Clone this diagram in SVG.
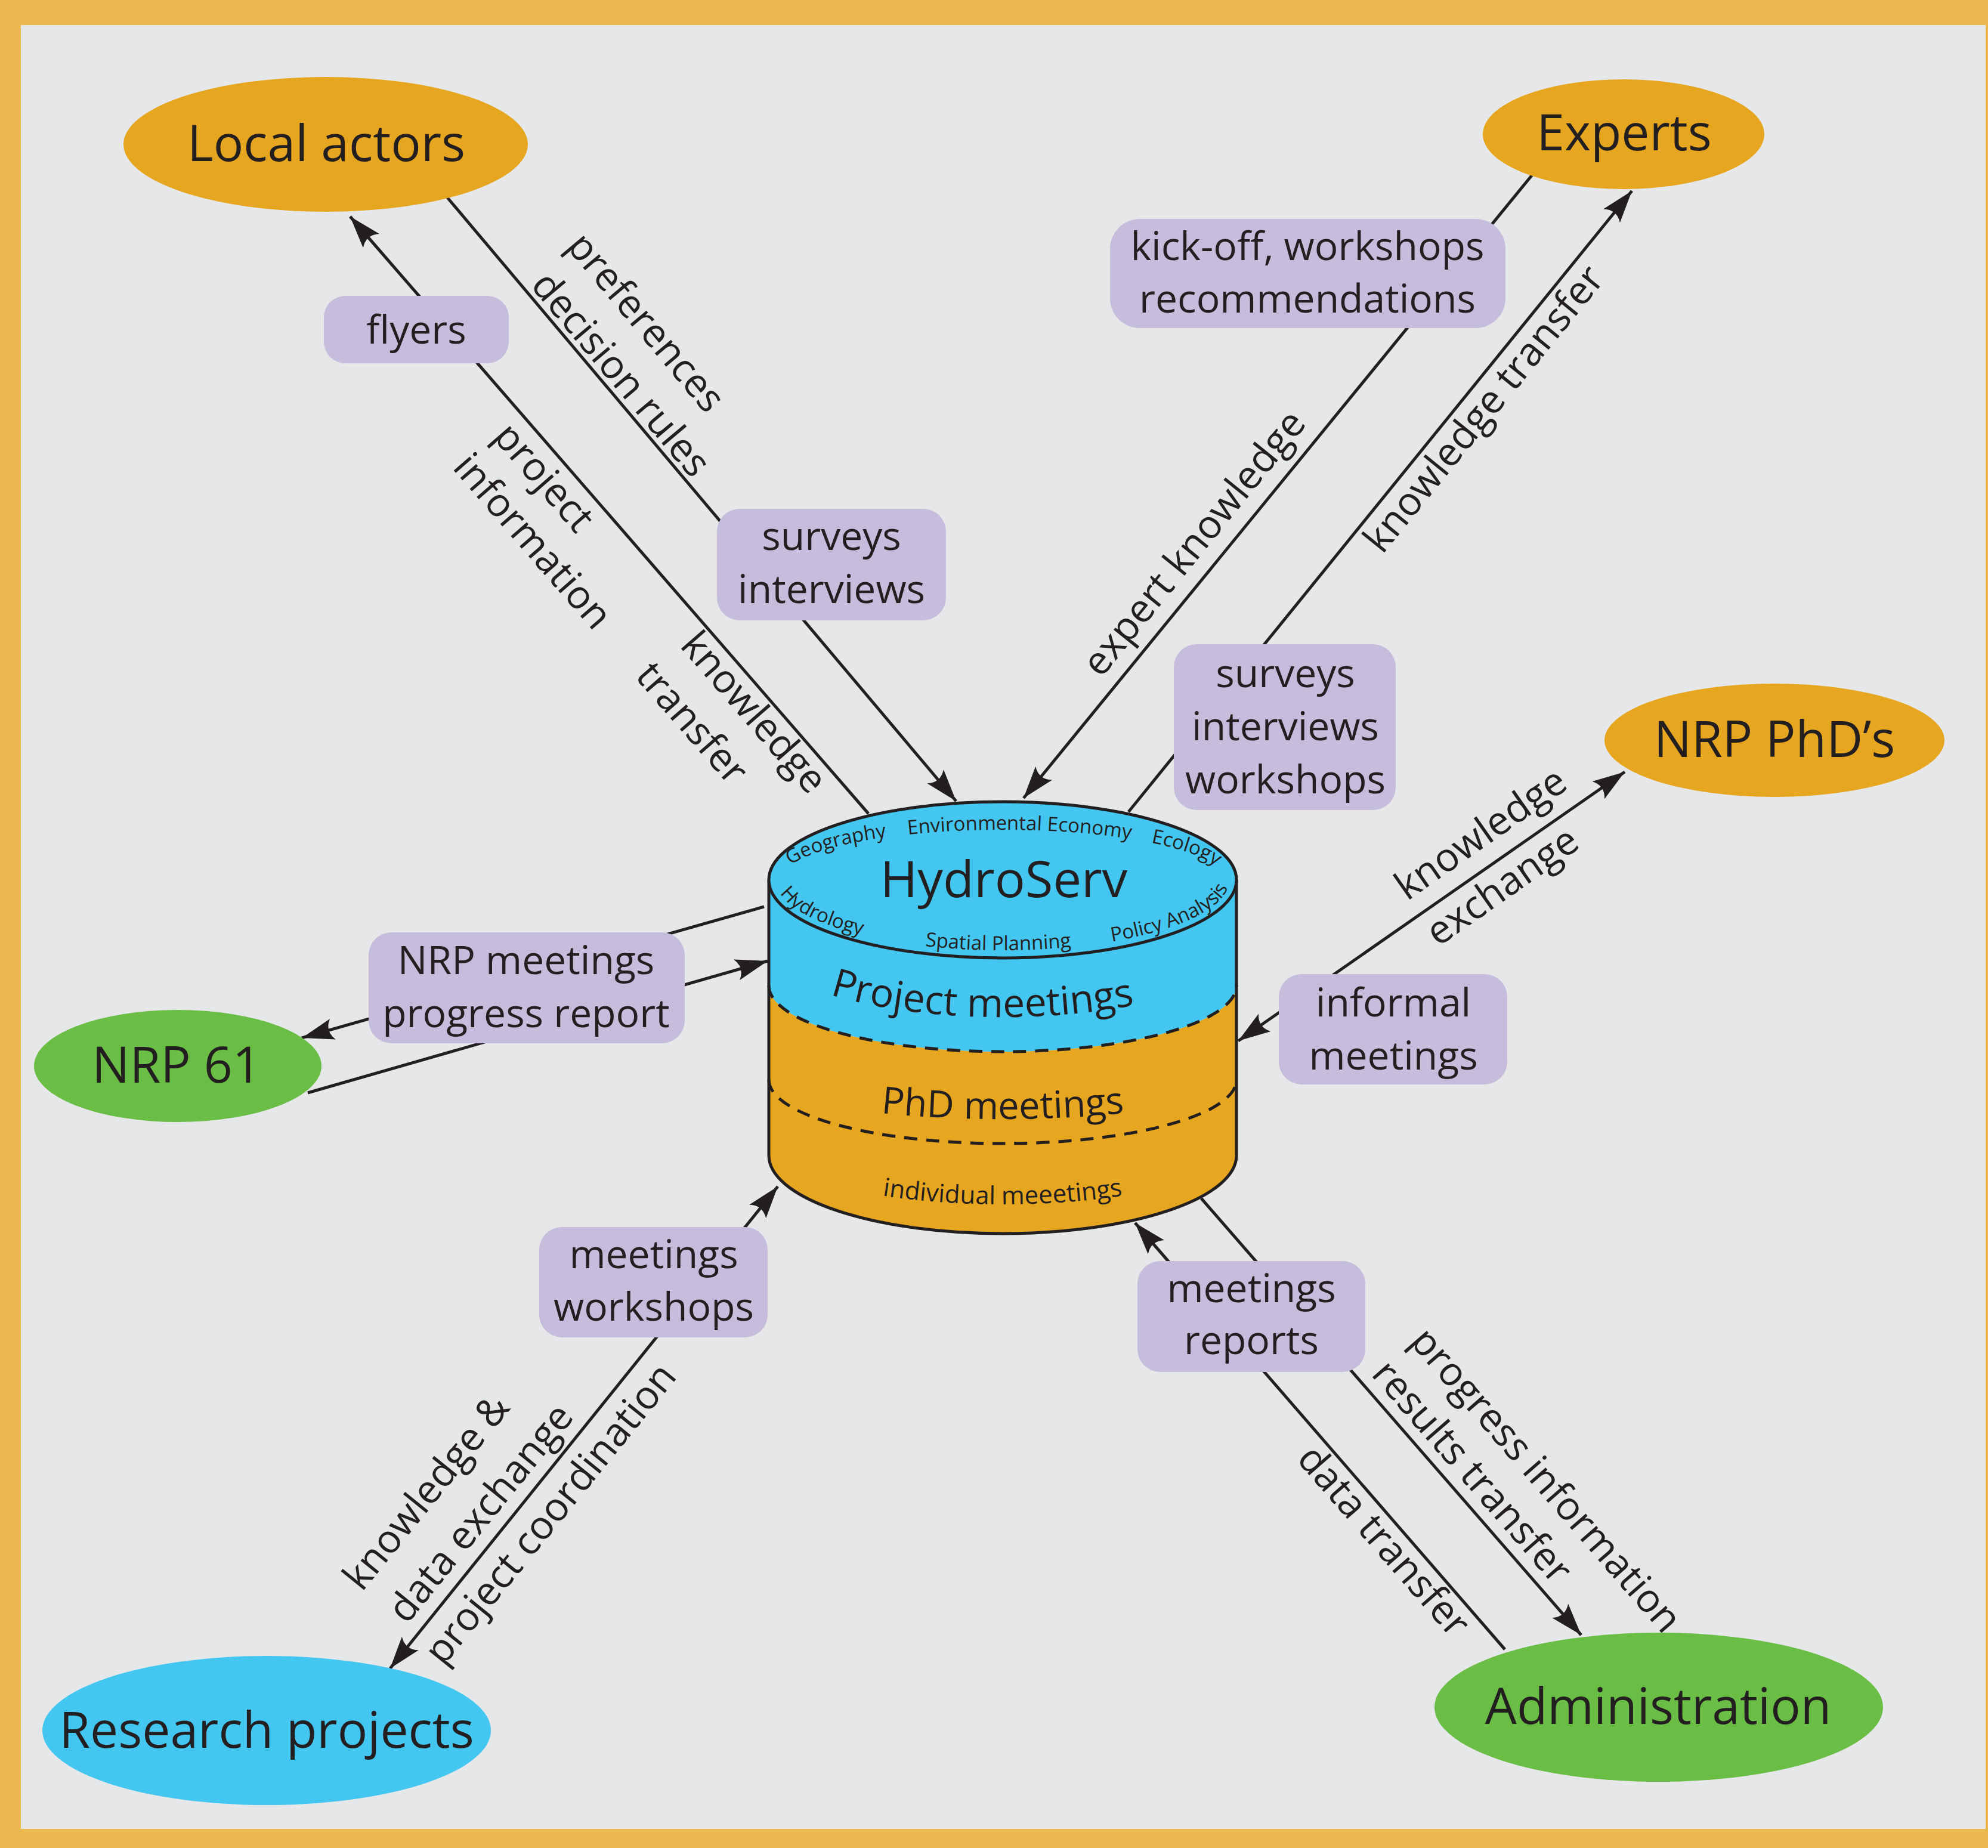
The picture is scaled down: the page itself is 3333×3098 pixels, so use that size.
<svg xmlns="http://www.w3.org/2000/svg" width="3333" height="3098" viewBox="0 0 3333 3098">
<style>
text{font-family:"Open Sans","Noto Sans","Liberation Sans",sans-serif;fill:#231F20}
.nt{font-size:84px;text-anchor:middle}
.lb{font-size:66px;text-anchor:middle}
.rl{font-size:66px;text-anchor:middle}
.sm{font-size:33px}
.box{fill:#C6BDDD}
.ln{stroke:#231F20;stroke-width:5;fill:none}
.cyl{stroke:#231F20;stroke-width:5}
.dash{stroke:#231F20;stroke-width:5;fill:none;stroke-dasharray:22 15}
</style>
<defs>
<marker id="ah" markerUnits="userSpaceOnUse" markerWidth="56" markerHeight="40" viewBox="0 0 56 40" refX="54" refY="20" orient="auto">
<path d="M54,20 L0,2 Q14,20 0,38 Z" fill="#231F20"/>
</marker>
<marker id="ahs" markerUnits="userSpaceOnUse" markerWidth="56" markerHeight="40" viewBox="0 0 56 40" refX="54" refY="20" orient="auto-start-reverse">
<path d="M54,20 L0,2 Q14,20 0,38 Z" fill="#231F20"/>
</marker>
<path id="arcTop" d="M 1309 1475 A 372 84 0 0 1 2053 1475"/>
<path id="arcBot" d="M 1301 1475 A 380 118 0 0 0 2061 1475"/>
<path id="arcPM" d="M 1281 1583 A 400 122 0 0 0 2081 1583"/>
<path id="arcPhD" d="M 1281 1804 A 400 72 0 0 0 2081 1804"/>
<path id="arcInd" d="M 1281 1911 A 400 108 0 0 0 2081 1911"/>
</defs>
<rect x="0" y="0" width="3333" height="3098" fill="#EAB84E"/>
<rect x="35" y="42" width="3294" height="3024" fill="#E6E7E8"/>

<g id="connectors">
<line class="ln" x1="1456" y1="1364" x2="587" y2="363" marker-end="url(#ah)"/>
<line class="ln" x1="749" y1="330" x2="1603" y2="1343" marker-end="url(#ah)"/>
<line class="ln" x1="2569" y1="293" x2="1716" y2="1338" marker-end="url(#ah)"/>
<line class="ln" x1="1892" y1="1361" x2="2736" y2="320" marker-end="url(#ah)"/>
<line class="ln" x1="2076" y1="1745" x2="2724" y2="1294" marker-start="url(#ahs)" marker-end="url(#ah)"/>
<line class="ln" x1="1281" y1="1520" x2="506" y2="1740" marker-end="url(#ah)"/>
<line class="ln" x1="516" y1="1832" x2="1287" y2="1611" marker-end="url(#ah)"/>
<line class="ln" x1="1304" y1="1989" x2="654" y2="2797" marker-start="url(#ahs)" marker-end="url(#ah)"/>
<line class="ln" x1="2523" y1="2765" x2="1903" y2="2050" marker-end="url(#ah)"/>
<line class="ln" x1="2014" y1="2009" x2="2651" y2="2741" marker-end="url(#ah)"/>
</g>

<g id="connector-labels">
<text class="rl" transform="translate(909,803) rotate(49)" y="18">project</text>
<text class="rl" transform="translate(890,910) rotate(49)" y="18">information</text>
<text class="rl" transform="translate(1261,1197) rotate(49)" y="18">knowledge</text>
<text class="rl" transform="translate(1157,1215) rotate(49)" y="18">transfer</text>
<text class="rl" transform="translate(1080,543) rotate(50)" y="18">preferences</text>
<text class="rl" transform="translate(1038,630) rotate(50)" y="18">decision rules</text>
<text class="rl" transform="translate(2005,913) rotate(-51)" y="18">expert knowledge</text>
<text class="rl" transform="translate(2491,688) rotate(-51)" y="18">knowledge transfer</text>
<text class="rl" transform="translate(2485,1401) rotate(-35)" y="18">knowledge</text>
<text class="rl" transform="translate(2521,1489) rotate(-35)" y="18">exchange</text>
<text class="rl" transform="translate(718,2504) rotate(-51)" y="18">knowledge &amp;</text>
<text class="rl" transform="translate(809,2539) rotate(-51)" y="18">data exchange</text>
<text class="rl" transform="translate(926,2540) rotate(-51)" y="18">project coordination</text>
<text class="rl" transform="translate(2589,2484) rotate(49)" y="18">progress information</text>
<text class="rl" transform="translate(2465,2470) rotate(49)" y="18">results transfer</text>
<text class="rl" transform="translate(2317,2586) rotate(49)" y="18">data transfer</text>
</g>

<g id="box-flyers"><rect class="box" x="543" y="496" width="310" height="113" rx="36"/><text class="lb" x="698" y="576">flyers</text></g>
<g id="box-surveys1"><rect class="box" x="1202" y="853" width="384" height="187" rx="38"/><text class="lb" x="1394" y="922">surveys</text><text class="lb" x="1394" y="1011">interviews</text></g>
<g id="box-kickoff"><rect class="box" x="1861" y="367" width="663" height="183" rx="50"/><text class="lb" x="2192" y="436">kick-off, workshops</text><text class="lb" x="2192" y="524">recommendations</text></g>
<g id="box-surveys2"><rect class="box" x="1968" y="1080" width="372" height="278" rx="38"/><text class="lb" x="2155" y="1152">surveys</text><text class="lb" x="2155" y="1241">interviews</text><text class="lb" x="2155" y="1330">workshops</text></g>
<g id="box-informal"><rect class="box" x="2144" y="1633" width="383" height="185" rx="38"/><text class="lb" x="2336" y="1704">informal</text><text class="lb" x="2336" y="1793">meetings</text></g>
<g id="box-nrp"><rect class="box" x="618" y="1563" width="530" height="186" rx="38"/><text class="lb" x="882" y="1633">NRP meetings</text><text class="lb" x="882" y="1722">progress report</text></g>
<g id="box-meetws"><rect class="box" x="904" y="2057" width="383" height="185" rx="38"/><text class="lb" x="1096" y="2126">meetings</text><text class="lb" x="1096" y="2214">workshops</text></g>
<g id="box-meetrep"><rect class="box" x="1907" y="2114" width="382" height="186" rx="38"/><text class="lb" x="2098" y="2183">meetings</text><text class="lb" x="2098" y="2270">reports</text></g>

<g id="node-local-actors"><ellipse cx="546" cy="242" rx="339" ry="113" fill="#E6A620"/><text class="nt" x="547" y="270">Local actors</text></g>
<g id="node-experts"><ellipse cx="2722" cy="225" rx="236" ry="92" fill="#E6A620"/><text class="nt" x="2723" y="252">Experts</text></g>
<g id="node-nrp-phds"><ellipse cx="2975" cy="1241" rx="285" ry="95" fill="#E6A620"/><text class="nt" x="2975" y="1269">NRP PhD’s</text></g>
<g id="node-nrp61"><ellipse cx="298" cy="1787" rx="241" ry="94" fill="#6ABD45"/><text class="nt" x="296" y="1815">NRP 61</text></g>
<g id="node-research"><ellipse cx="447" cy="2901" rx="376" ry="125" fill="#43C6F0"/><text class="nt" x="447" y="2930">Research projects</text></g>
<g id="node-admin"><ellipse cx="2781" cy="2862" rx="376" ry="125" fill="#6ABD45"/><text class="nt" x="2780" y="2890">Administration</text></g>

<g id="node-hydroserv">
<path d="M 1289 1652 A 392 111 0 0 0 2073 1652 L 2073 1937 A 392 131 0 0 1 1289 1937 Z" fill="#E6A620"/>
<path d="M 1289 1475 L 1289 1652 A 392 111 0 0 0 2073 1652 L 2073 1475 Z" fill="#43C6F0"/>
<path class="dash" d="M 1289 1652 A 392 111 0 0 0 2073 1652"/>
<path class="dash" d="M 1289 1810 A 392 107 0 0 0 2073 1810"/>
<path class="cyl" fill="none" d="M 1289 1475 L 1289 1937 A 392 131 0 0 0 2073 1937 L 2073 1475"/>
<ellipse class="cyl" cx="1681" cy="1475" rx="392" ry="131" fill="#43C6F0"/>
<text x="1683" y="1504" font-size="85" text-anchor="middle">HydroServ</text>
<text class="sm" text-anchor="middle"><textPath href="#arcTop" startOffset="115">Geography</textPath></text>
<text class="sm" text-anchor="middle"><textPath href="#arcTop" startOffset="423">Environmental Economy</textPath></text>
<text class="sm" text-anchor="middle"><textPath href="#arcTop" startOffset="703">Ecology</textPath></text>
<text class="sm" text-anchor="middle"><textPath href="#arcBot" startOffset="102">Hydrology</textPath></text>
<text class="sm" text-anchor="middle"><textPath href="#arcBot" startOffset="411">Spatial Planning</textPath></text>
<text class="sm" text-anchor="middle"><textPath href="#arcBot" startOffset="713">Policy Analysis</textPath></text>
<text font-size="66" text-anchor="middle"><textPath href="#arcPM" startOffset="46%">Project meetings</textPath></text>
<text font-size="63" text-anchor="middle"><textPath href="#arcPhD" startOffset="50%">PhD meetings</textPath></text>
<text font-size="42" text-anchor="middle"><textPath href="#arcInd" startOffset="50%">individual meeetings</textPath></text>
</g>
</svg>
